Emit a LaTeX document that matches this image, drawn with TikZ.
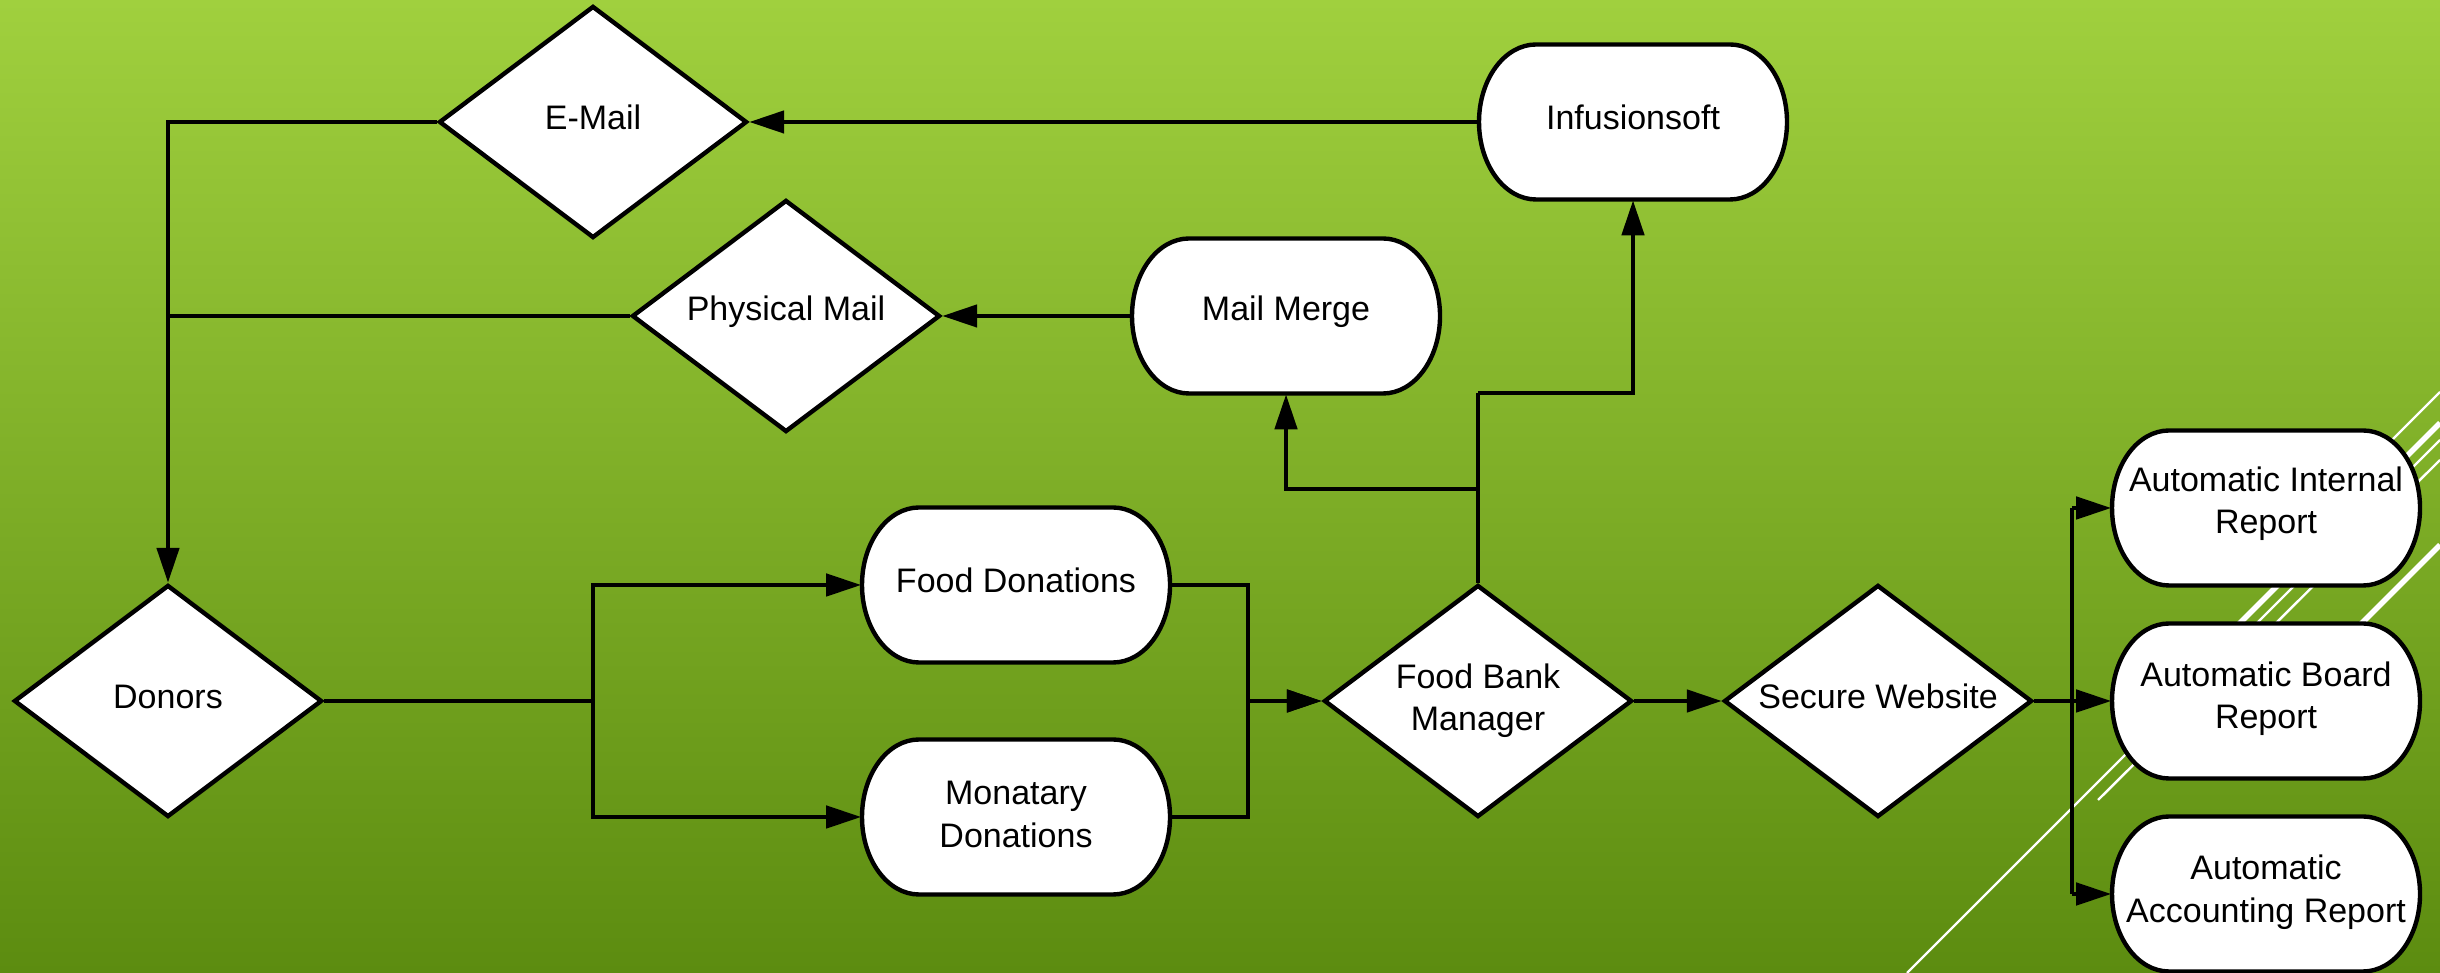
\documentclass[tikz,border=0pt]{standalone}
\usepackage{fontspec}
\setmainfont{Liberation Sans}
\usetikzlibrary{arrows.meta,shapes.geometric}
\definecolor{bgtop}{HTML}{A0D03E}
\definecolor{bgbot}{HTML}{5C8C10}
\newcommand\termbox[5][1.1pt]{%
  \draw[termline] (#3-97,#4+77.5) -- (#3+97,#4+77.5)
    arc[start angle=90,end angle=-90,x radius=57,y radius=77.5]
    -- (#3-97,#4-77.5)
    arc[start angle=270,end angle=90,x radius=57,y radius=77.5] -- cycle;
  \node[termtext] (#2) at (#3,#4) {};
  \node[dtext, yshift=#1] at (#2) {#5};}
\begin{document}
\begin{tikzpicture}[x=0.25pt,y=0.25pt,
  conn/.style={line width=1.15pt, draw=black},
  arr/.style={conn, -{Triangle[length=8.75pt,width=5.5pt]}},
  termline/.style={draw=black, fill=white, line width=1.1pt},
  termtext/.style={rectangle, inner sep=0pt, minimum width=77pt, minimum height=38.75pt},
  dia/.style={diamond, draw=black, fill=white, line width=1.1pt, inner sep=0pt, minimum width=77pt, minimum height=58pt},
  dtext/.style={align=center, inner sep=0pt, font=\fontsize{8.5pt}{10.6pt}\selectfont},
  deco/.style={draw=white, line width=0.6pt},
  decothick/.style={draw=white, line width=1.4pt}]
\useasboundingbox (0,0) rectangle (2440,973);
\shade[top color=bgtop, bottom color=bgbot] (0,0) rectangle (2440,973);
% decorative white lines
\draw[deco] (1907,0) -- (2440,533);
\draw[deco] (2098,173) -- (2440,513);
\draw[decothick] (2200,310) -- (2440,550);
\draw[deco] (2300,441) -- (2440,581);
\draw[decothick] (2300,288) -- (2440,428);
% rounded boxes
\termbox{infusion}{1633}{851}{Infusionsoft}
\termbox{mailmerge}{1286}{657}{Mail Merge}
\termbox{fooddon}{1016}{388}{Food Donations}
\termbox[0.6pt]{monatary}{1016}{156}{Monatary\\Donations}
\termbox[1pt]{air}{2266}{465}{Automatic Internal\\Report}
\termbox[0.6pt]{abr}{2266}{272}{Automatic Board\\Report}
\termbox[0.4pt]{aar}{2266}{79}{Automatic\\Accounting Report}
% diamonds
\node[dia] (email) at (593,851) {};
\node[dtext, yshift=1.1pt] at (email) {E-Mail};
\node[dia] (phys) at (786,657) {};
\node[dtext, yshift=1.1pt] at (phys) {Physical Mail};
\node[dia] (donors) at (168,272) {};
\node[dtext, yshift=1.1pt] at (donors) {Donors};
\node[dia] (fbm) at (1478,272) {};
\node[dtext] at (fbm) {Food Bank\\Manager};
\node[dia] (sw) at (1878,272) {};
\node[dtext, yshift=1.1pt] at (sw) {Secure Website};
% connectors
\draw[arr] (infusion.west) -- (email.east);
\draw[arr] (mailmerge.west) -- (phys.east);
\draw[arr] (email.west) -| (donors.north);
\draw[conn] (phys.west) -- (phys.west -| donors.north);
\coordinate (j1) at (593,272);
\draw[conn] (donors.east) -- (j1);
\draw[arr] (j1) |- (fooddon.west);
\draw[arr] (j1) |- (monatary.west);
\coordinate (j2) at (1248,272);
\draw[arr] (fooddon.east) -| (j2) -- (fbm.west);
\draw[arr] (monatary.east) -| (j2) -- (fbm.west);
\coordinate (j3) at (1478,484);
\coordinate (j5) at (1478,580);
\draw[conn] (fbm.north) -- (j5);
\draw[arr] (j3) -| (mailmerge.south);
\draw[arr] (j5) -| (infusion.south);
\draw[arr] (fbm.east) -- (sw.west);
\coordinate (j4) at (2072,272);
\draw[conn] (sw.east) -- (j4);
\draw[conn] (j4 |- air.west) -- (j4 |- aar.west);
\draw[arr] (j4 |- air.west) -- (air.west);
\draw[arr] (j4) -- (abr.west);
\draw[arr] (j4 |- aar.west) -- (aar.west);
\end{tikzpicture}
\end{document}
